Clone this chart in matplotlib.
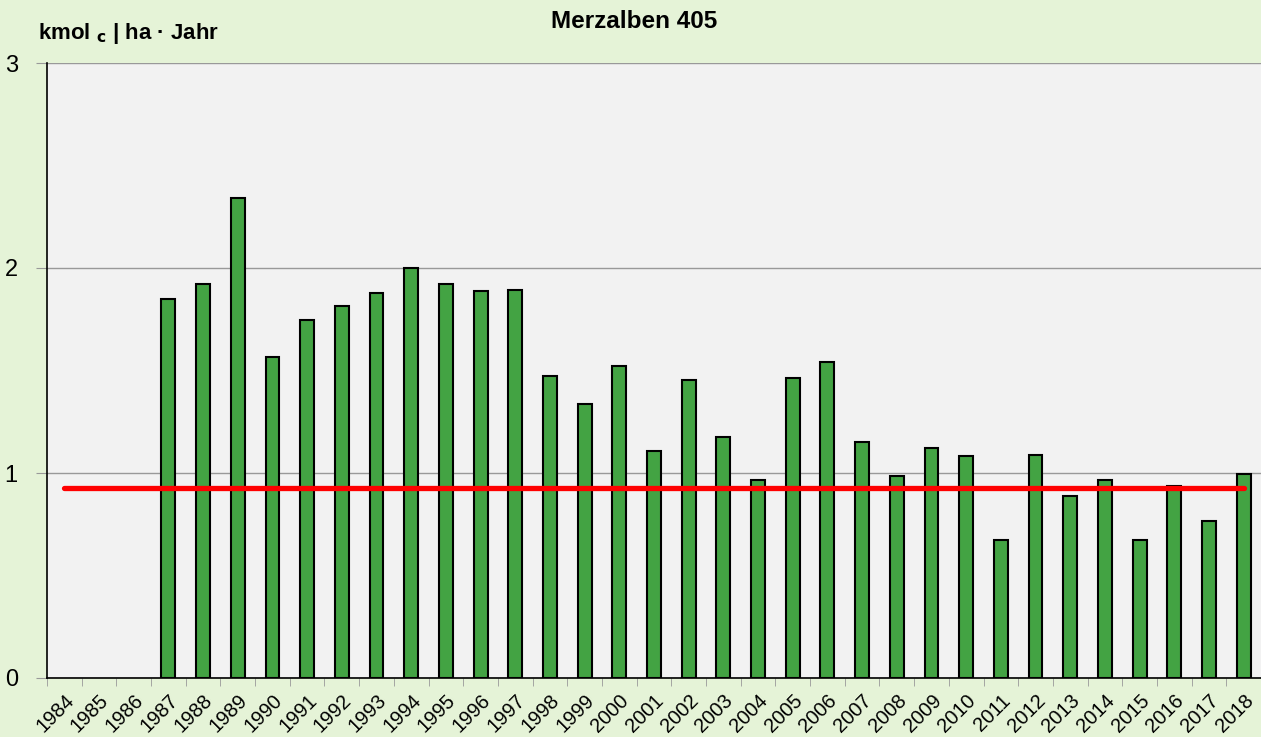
import numpy as np
from matplotlib import pyplot as plt

plt.rcParams['font.family'] = ['Liberation Sans', 'DejaVu Sans']

jahre = [str(j) for j in range(1984, 2019)]
werte = [np.nan, np.nan, np.nan,
         1.85, 1.92, 2.34, 1.565, 1.745, 1.815, 1.88, 2.00, 1.92, 1.89, 1.895,
         1.475, 1.335, 1.52, 1.105, 1.455, 1.175, 0.965, 1.465, 1.54, 1.15,
         0.985, 1.12, 1.085, 0.675, 1.09, 0.89, 0.965, 0.675, 0.935, 0.765, 0.995]
mittel = 0.925

x = np.arange(len(jahre))

fig = plt.figure(figsize=(12.61, 7.37), dpi=100)
fig.patch.set_facecolor('#e5f3d7')
ax = fig.add_axes([47/1261, 1 - 678/737, (1261 - 47)/1261, (678 - 63)/737])
ax.set_facecolor('#f2f2f2')

ax.bar(x, werte, width=0.4, color='#43a343', edgecolor='black', linewidth=1.5, zorder=3)
ax.plot(x, [mittel] * len(x), color='#ff0000', linewidth=3.8, solid_capstyle='round', zorder=4)

ax.set_xlim(-0.5, len(x) - 0.5)
ax.set_ylim(0, 3)
ax.set_yticks([0, 1, 2, 3])
ax.yaxis.grid(True, color='#999999', linewidth=1)
ax.set_axisbelow(True)

ax.set_xticks(x)
ax.set_xticklabels(jahre, rotation=45, ha='right', rotation_mode='anchor', fontsize=14.5)
ax.set_xticks(np.arange(-0.5, len(x), 1), minor=True)
ax.tick_params(axis='x', which='major', length=0, pad=9)
ax.tick_params(axis='x', which='minor', length=6, color='#999999')
ax.tick_params(axis='y', length=8, color='#999999', labelsize=17, pad=13)

for s in ['top', 'right']:
    ax.spines[s].set_visible(False)
ax.spines['left'].set_linewidth(1.2)
ax.spines['bottom'].set_linewidth(1.2)

fig.text(634/1261, 1 - 22/737, 'Merzalben 405', ha='center', va='center', fontsize=17.5, fontweight='bold')
fig.text(38/1261, 1 - 33/737, r'kmol $_{\mathbf{c}}$ | ha · Jahr', ha='left', va='center', fontsize=16, fontweight='bold')

plt.savefig('out.png', dpi=100, facecolor=fig.get_facecolor())
